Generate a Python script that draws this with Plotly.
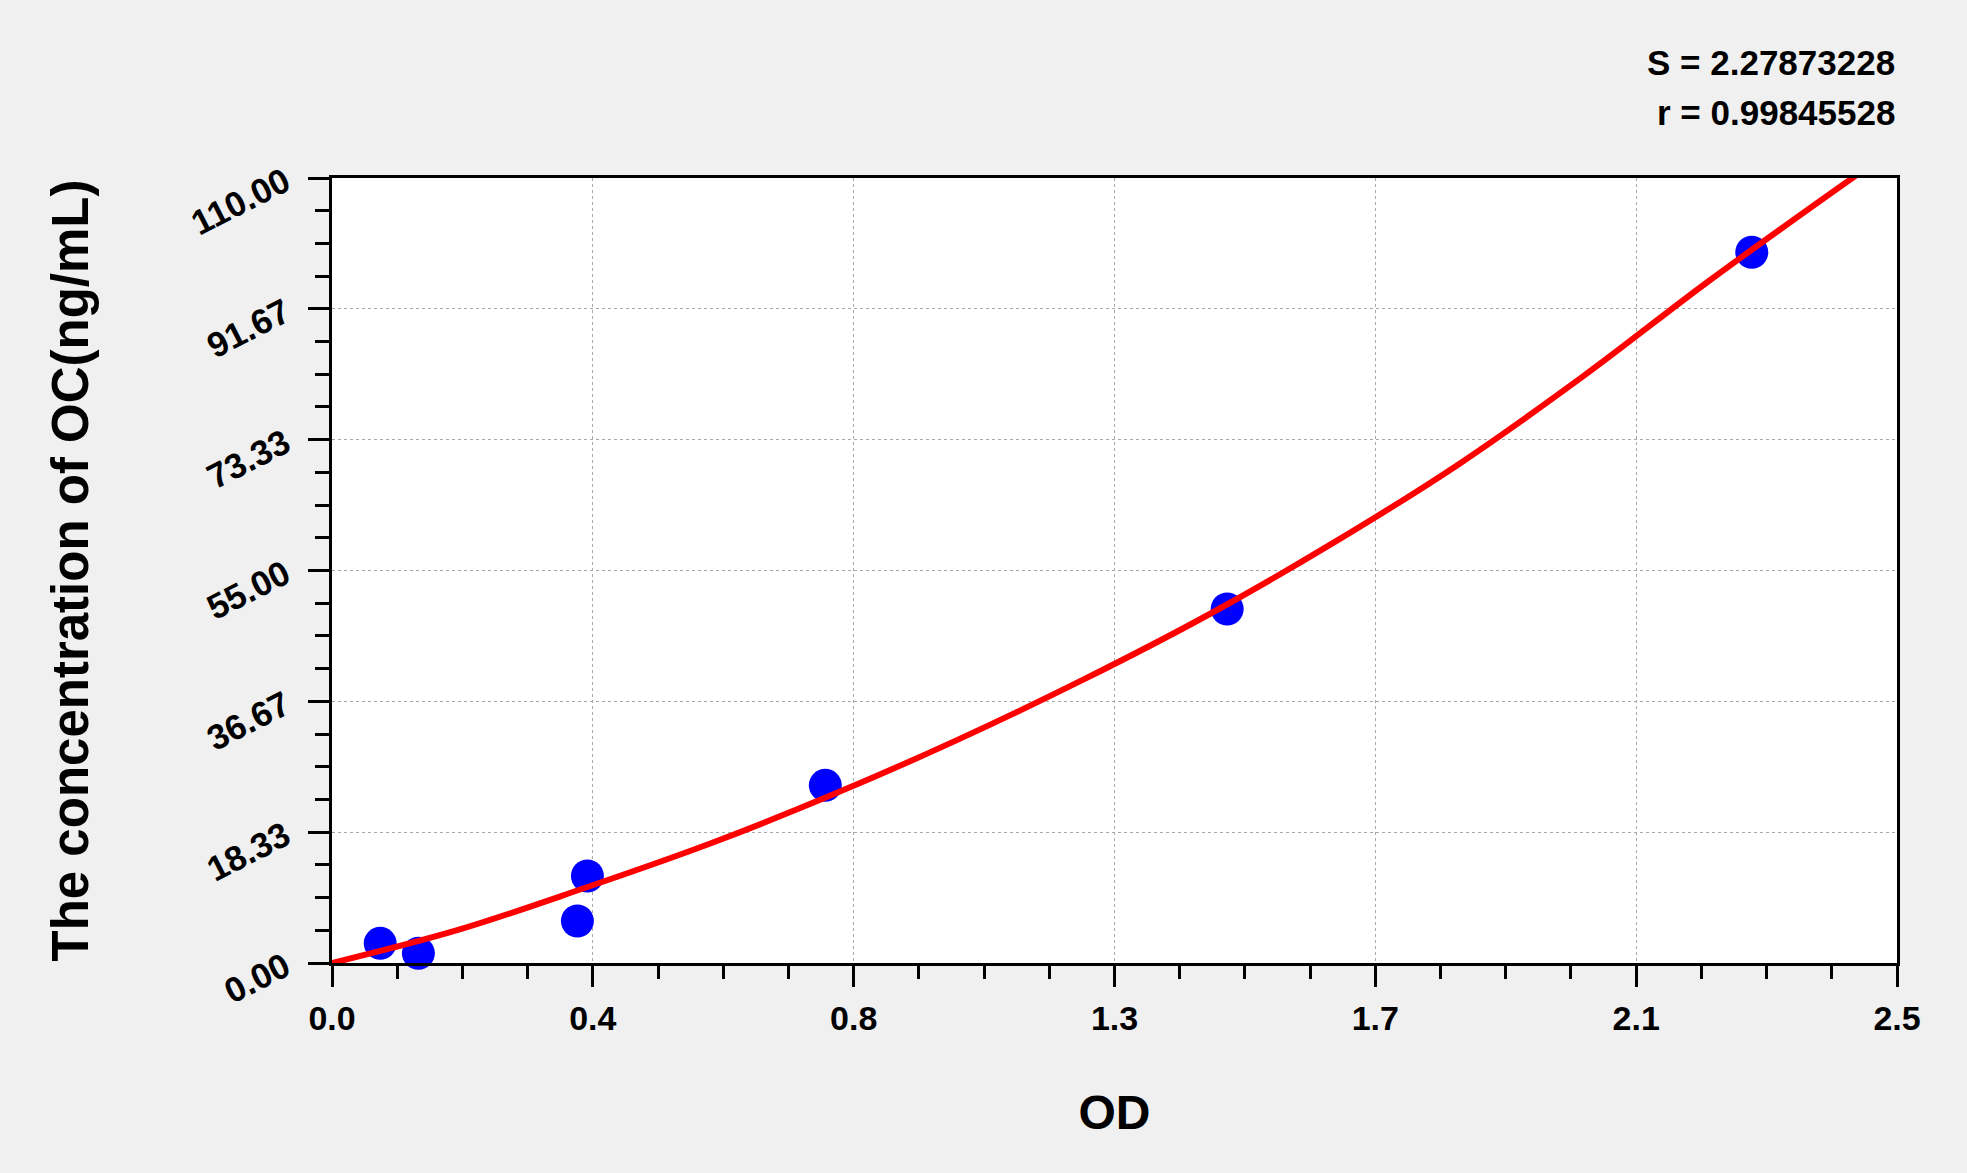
import plotly.graph_objects as go

# Standard points (OD vs concentration)
od_points = [0.077, 0.138, 0.392, 0.408, 0.788, 1.430, 2.268]
conc_points = [2.76, 1.36, 5.89, 12.19, 24.9, 49.6, 99.6]

# Fitted curve
curve_od = [0.0, 0.2, 0.4, 0.6, 0.8, 1.0, 1.2, 1.4, 1.6, 1.8, 2.0, 2.2, 2.44]
curve_conc = [0.0, 4.6, 10.4, 16.6, 23.6, 31.3, 39.7, 48.8, 58.9, 69.9, 82.3, 95.6, 110.7]

# Axis ticks
x_tickvals = [0.0, 0.41667, 0.83333, 1.25, 1.66667, 2.08333, 2.5]
x_ticktext = ['0.0', '0.4', '0.8', '1.3', '1.7', '2.1', '2.5']
y_tickvals = [0.0, 18.333, 36.667, 55.0, 73.333, 91.667, 110.0]
y_ticktext = ['0.00', '18.33', '36.67', '55.00', '73.33', '91.67', '110.00']

stats_text = ['S = 2.27873228', 'r = 0.99845528']

font_family = 'Arial, Liberation Sans, sans-serif'

fig = go.Figure()

fig.add_trace(go.Scatter(x=od_points, y=conc_points, mode='markers',
                         marker=dict(color='#0000ff', size=33, line=dict(width=0)),
                         cliponaxis=False, showlegend=False))

fig.add_trace(go.Scatter(x=curve_od, y=curve_conc, mode='lines',
                         line=dict(color='#ff0000', width=6, shape='spline'),
                         showlegend=False))

axis_common = dict(
    showline=True, linecolor='black', linewidth=3, mirror=True,
    showgrid=True, gridcolor='#a8a8a8', griddash='dot', gridwidth=1,
    zeroline=False, ticks='outside', tickcolor='black', tickwidth=3, ticklen=21,
    tickmode='array',
)

fig.update_xaxes(
    **axis_common,
    range=[0, 2.5], tickvals=x_tickvals, ticktext=x_ticktext,
    tickfont=dict(family=font_family, size=34, color='black', weight='bold'),
    ticklabelstandoff=2,
    minor=dict(dtick=0.1041667, tick0=0, ticks='outside', ticklen=13,
               tickwidth=3, tickcolor='black', showgrid=False),
    title=dict(text='OD', standoff=60,
               font=dict(family=font_family, size=48, color='black', weight='bold')),
)

fig.update_yaxes(
    **axis_common,
    range=[0, 110], tickvals=y_tickvals, ticktext=y_ticktext,
    tickangle=-27,
    tickfont=dict(family=font_family, size=35, color='black', weight='bold'),
    ticklabelstandoff=16,
    minor=dict(dtick=4.583333, tick0=0, ticks='outside', ticklen=14,
               tickwidth=3, tickcolor='black', showgrid=False),
    title=dict(text='The concentration of OC(ng/mL)', standoff=80,
               font=dict(family=font_family, size=51, color='black', weight='bold')),
)

# S and r values top right
for txt, ypos in zip(stats_text, [1.1465, 1.084]):
    fig.add_annotation(text=txt, xref='paper', yref='paper', x=1.0, y=ypos,
                       xanchor='right', yanchor='middle', showarrow=False,
                       font=dict(family=font_family, size=35, color='black', weight='bold'))

fig.update_layout(
    width=1967, height=1173,
    margin=dict(l=332, r=70, t=178, b=210),
    paper_bgcolor='#f0f0f0', plot_bgcolor='white',
)

fig.write_html("out.html", config={'displayModeBar': False},
               post_script="document.body.style.margin='0px';")
